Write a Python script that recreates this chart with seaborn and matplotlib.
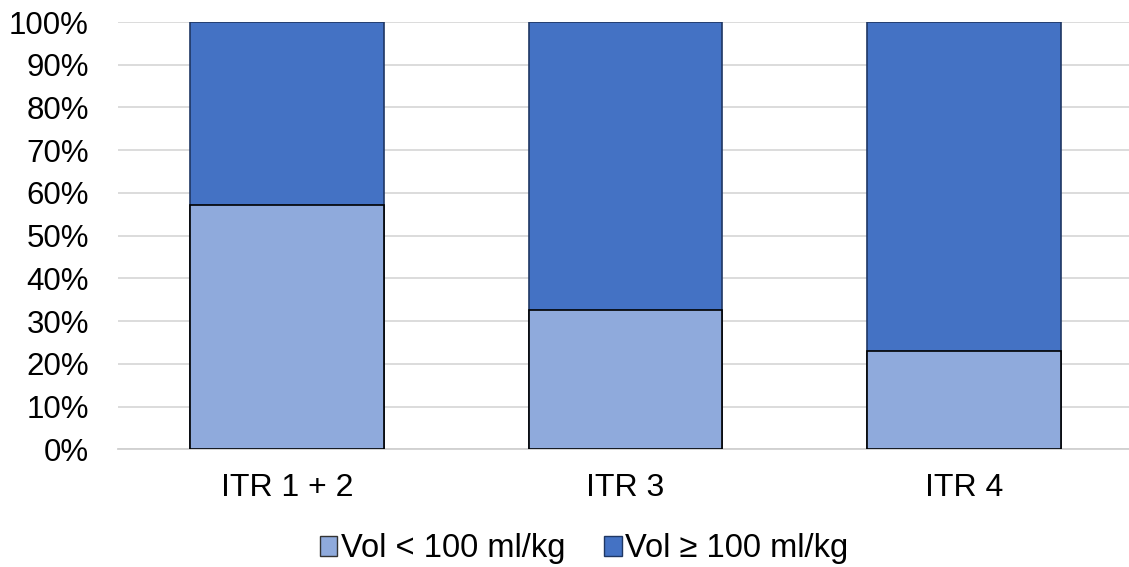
import matplotlib
matplotlib.use("Agg")
import matplotlib.pyplot as plt
from matplotlib.patches import Patch
from matplotlib.ticker import PercentFormatter, MultipleLocator
import seaborn as sns
import pandas as pd

# Share of patients per ITR group by volume category (percent)
groups = ["ITR 1 + 2", "ITR 3", "ITR 4"]
vol_below_100 = [57.1, 32.6, 23.1]
vol_at_least_100 = [42.9, 67.4, 76.9]
series_labels = ["Vol < 100 ml/kg", "Vol \u2265 100 ml/kg"]

light_blue = "#8FAADC"
dark_blue = "#4472C4"

sns.set_theme(style="white")
plt.rcParams["font.family"] = ["Liberation Sans", "DejaVu Sans"]
plt.rcParams["text.color"] = "black"

df = pd.DataFrame({
    "group": groups,
    "low": vol_below_100,
    "high": vol_at_least_100,
})
df["total"] = df["low"] + df["high"]

fig = plt.figure(figsize=(11.29, 5.67), dpi=100)
ax = fig.add_axes([118 / 1129, 1 - 449.3 / 567, 1015 / 1129, 427.3 / 567])

# Stacked bars: full-height upper segment first, lower segment drawn on top
sns.barplot(data=df, x="group", y="total", color=dark_blue, saturation=1,
            width=0.573, edgecolor="#1F3763", linewidth=1.2, ax=ax, zorder=2)
sns.barplot(data=df, x="group", y="low", color=light_blue, saturation=1,
            width=0.573, edgecolor="black", linewidth=1.2, ax=ax, zorder=3)

ax.set_ylim(0, 100)
ax.set_xlim(-0.5, 2.5)
ax.yaxis.set_major_locator(MultipleLocator(10))
ax.yaxis.set_major_formatter(PercentFormatter(decimals=0))
ax.grid(axis="y", color="#D9D9D9", linewidth=1.3, zorder=0)
ax.set_axisbelow(True)
for side in ["top", "right", "left"]:
    ax.spines[side].set_visible(False)
ax.spines["bottom"].set_color("#D0D0D0")
ax.spines["bottom"].set_linewidth(1.3)
ax.spines["bottom"].set_zorder(1)

ax.set_xlabel("")
ax.set_ylabel("")
ax.tick_params(axis="y", length=0, pad=21, labelsize=22.5, labelcolor="black")
ax.tick_params(axis="x", length=0, pad=17, labelsize=23, labelcolor="black")

handles = [
    Patch(facecolor=light_blue, edgecolor="#333333", linewidth=1.0),
    Patch(facecolor=dark_blue, edgecolor="#1F3763", linewidth=1.0),
]
leg = fig.legend(handles, series_labels, loc="center",
                 bbox_to_anchor=(584 / 1129, 1 - 549 / 567),
                 ncol=2, frameon=False, fontsize=23.5, handlelength=0.53,
                 handleheight=0.53, handletextpad=0.1, columnspacing=1.2,
                 borderpad=0)
for text in leg.get_texts():
    text.set_color("black")

fig.savefig("out.png", dpi=100)
